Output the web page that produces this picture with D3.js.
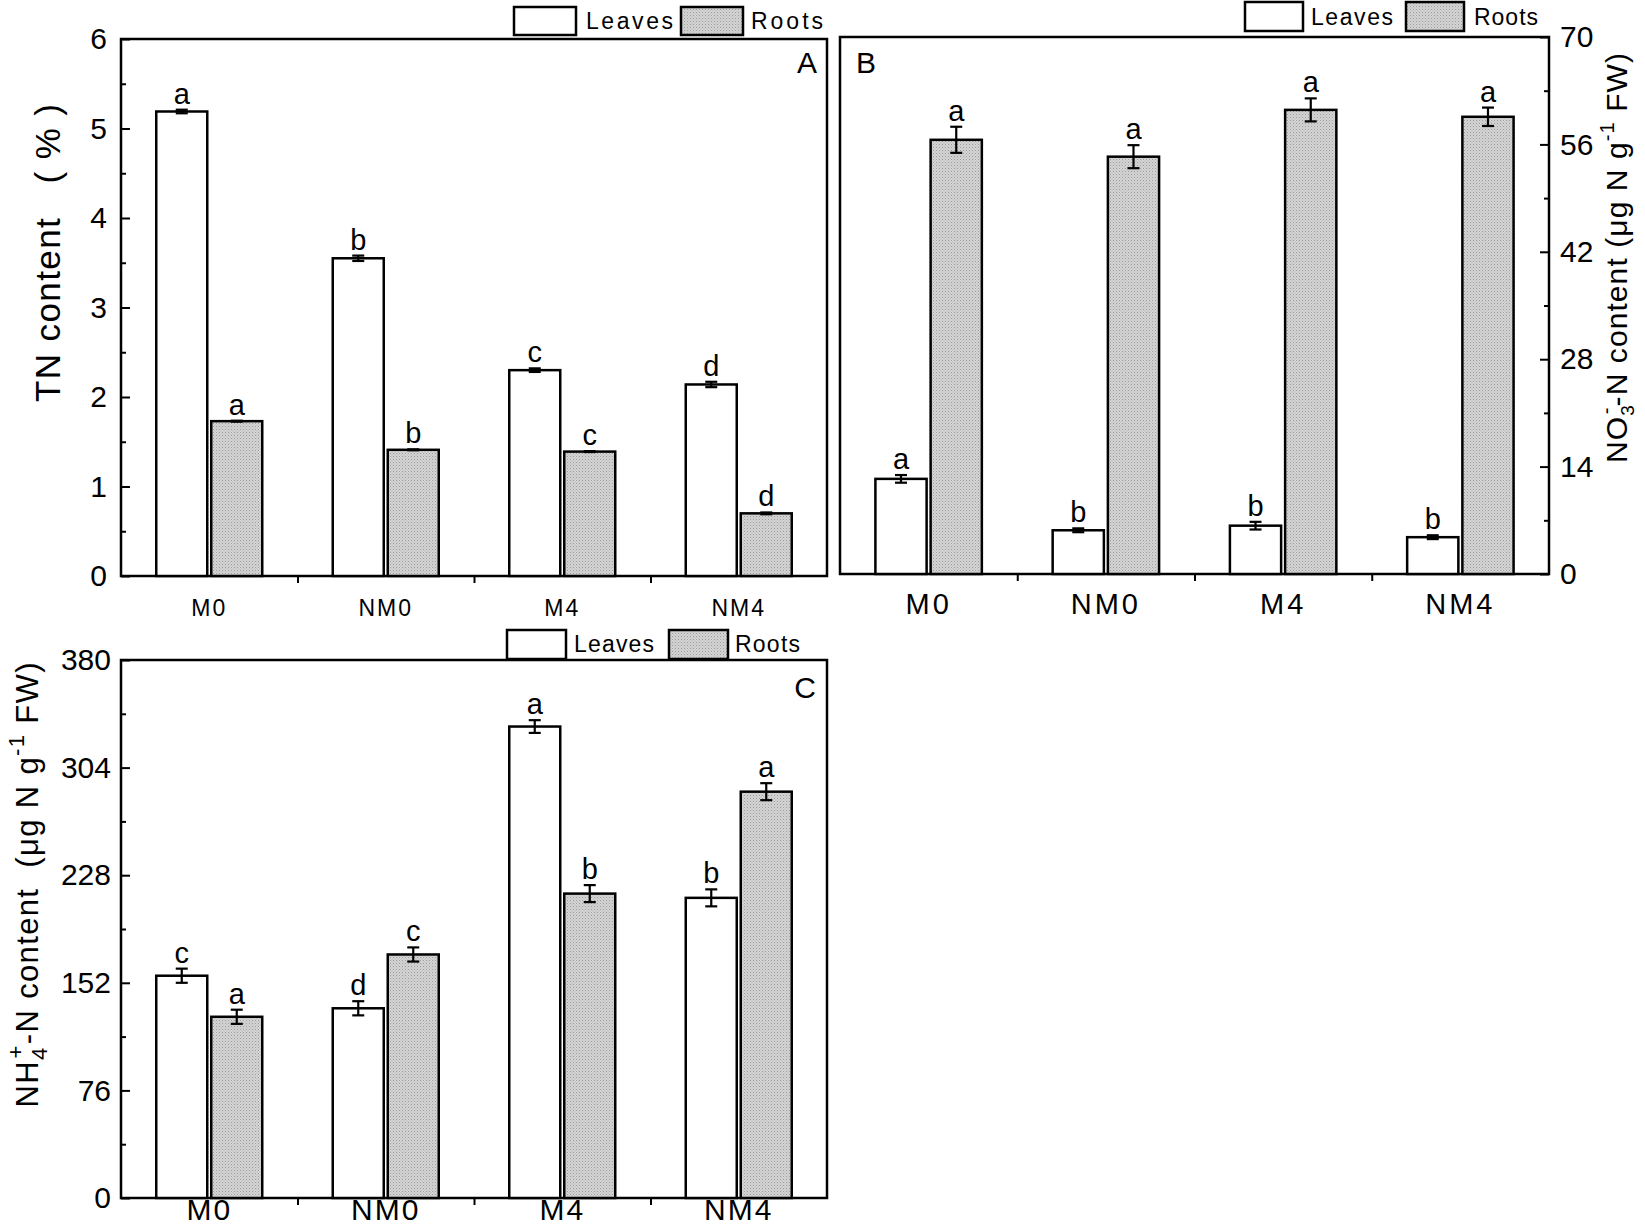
<!DOCTYPE html>
<html lang="en">
<head>
<meta charset="UTF-8">
<title>N content of leaves and roots</title>
<style>
  body { margin: 0; background: #fff; }
  svg { display: block; font-family: "Liberation Sans", Arial, sans-serif; }
  .tick line { stroke: #000; stroke-width: 2px; }
  .tick text { fill: #000; }
  .frame { fill: none; stroke: #000; stroke-width: 2.5px; }
  .bar { stroke: #000; stroke-width: 2.5px; }
  .err { stroke: #000; stroke-width: 2.2px; }
</style>
<script src="https://d3js.org/d3.v7.min.js"></script>
</head>
<body>
<svg id="chart" width="1645" height="1226"></svg>
<script>
const treatments = ["M0", "NM0", "M4", "NM4"];
const series = ["Leaves", "Roots"];

// A: total N (%)
const tnLeaves = [5.19, 3.55, 2.30, 2.14];
const tnLeavesErr = [0.02, 0.03, 0.02, 0.03];
const tnRoots = [1.73, 1.41, 1.39, 0.70];
const tnRootsErr = [0.005, 0.005, 0.005, 0.01];
const tnLeavesLetters = ["a", "b", "c", "d"];
const tnRootsLetters = ["a", "b", "c", "d"];

// B: NO3- -N (ug N / g FW)
const no3Leaves = [12.4, 5.7, 6.3, 4.8];
const no3LeavesErr = [0.5, 0.25, 0.5, 0.25];
const no3Roots = [56.6, 54.4, 60.5, 59.6];
const no3RootsErr = [1.7, 1.5, 1.5, 1.2];
const no3LeavesLetters = ["a", "b", "b", "b"];
const no3RootsLetters = ["a", "a", "a", "a"];

// C: NH4+ -N (ug N / g FW)
const nh4Leaves = [157, 134, 333, 212];
const nh4LeavesErr = [5, 5, 4.5, 6];
const nh4Roots = [128, 172, 215, 287];
const nh4RootsErr = [5, 5, 6, 6];
const nh4LeavesLetters = ["c", "d", "a", "b"];
const nh4RootsLetters = ["a", "c", "b", "a"];

const tnTicks = [0, 1, 2, 3, 4, 5, 6];
const tnMinor = [0.5, 1.5, 2.5, 3.5, 4.5, 5.5];
const no3Ticks = [0, 14, 28, 42, 56, 70];
const no3Minor = [7, 21, 35, 49, 63];
const nh4Ticks = [0, 76, 152, 228, 304, 380];
const nh4Minor = [38, 114, 190, 266, 342];

const svg = d3.select("#chart");

const defs = svg.append("defs");
const pat = defs.append("pattern")
    .attr("id", "stipple")
    .attr("width", 3).attr("height", 3)
    .attr("patternUnits", "userSpaceOnUse");
pat.append("rect").attr("width", 3).attr("height", 3).attr("fill", "#d4d4d4");
pat.append("rect").attr("x", 0).attr("y", 0).attr("width", 1).attr("height", 1).attr("fill", "#9c9c9c");
pat.append("rect").attr("x", 1.5).attr("y", 1.5).attr("width", 1).attr("height", 1).attr("fill", "#b0b0b0");

function drawPanel(p) {
    const g = svg.append("g");

    const x0 = d3.scaleBand().domain(treatments).range([p.left, p.right]);
    const x1 = d3.scaleBand().domain(series).range([0, x0.bandwidth()])
        .paddingInner(0.0727).paddingOuter(0.641);
    const y = d3.scaleLinear().domain([0, p.yMax]).range([p.bottom, p.top]);
    const xb = d3.scaleLinear().domain([0, treatments.length]).range([p.left, p.right]);

    // frame
    g.append("rect").attr("class", "frame")
        .attr("x", p.left).attr("y", p.top)
        .attr("width", p.right - p.left).attr("height", p.bottom - p.top);

    // y axis, ticks pointing inward
    const axisX = p.side === "left" ? p.left : p.right;
    const mk = p.side === "left" ? d3.axisLeft : d3.axisRight;
    const yAxis = g.append("g").attr("transform", `translate(${axisX},0)`)
        .call(mk(y).tickValues(p.ticks).tickSize(-9).tickPadding(p.tickPad).tickFormat(d3.format("d")));
    yAxis.select(".domain").remove();
    yAxis.selectAll("text").style("font-size", p.tickFont + "px");
    const yMinor = g.append("g").attr("transform", `translate(${axisX},0)`)
        .call(mk(y).tickValues(p.minor).tickSize(-5).tickFormat(""));
    yMinor.select(".domain").remove();

    // x axis: ticks at group boundaries, outward
    const xAxis = g.append("g").attr("transform", `translate(0,${p.bottom})`)
        .call(d3.axisBottom(xb).tickValues([1, 2, 3]).tickSize(7).tickFormat(""));
    xAxis.select(".domain").remove();

    g.selectAll(".xlab").data(treatments).enter().append("text")
        .attr("x", d => x0(d) + x0.bandwidth() / 2)
        .attr("y", p.xLabY)
        .attr("text-anchor", "middle")
        .style("font-size", p.xLabFont + "px")
        .style("letter-spacing", p.xLabSpacing + "px")
        .text(d => d);

    // bars
    const rows = [];
    treatments.forEach((t, i) => {
        rows.push({ t, s: "Leaves", v: p.leaves[i], e: p.leavesErr[i], l: p.leavesLetters[i] });
        rows.push({ t, s: "Roots", v: p.roots[i], e: p.rootsErr[i], l: p.rootsLetters[i] });
    });
    const cx = d => x0(d.t) + x1(d.s) + x1.bandwidth() / 2;

    g.selectAll(".bar").data(rows).enter().append("rect")
        .attr("class", "bar")
        .attr("x", d => x0(d.t) + x1(d.s))
        .attr("y", d => y(d.v))
        .attr("width", x1.bandwidth())
        .attr("height", d => y(0) - y(d.v))
        .attr("fill", d => d.s === "Leaves" ? "#fff" : "url(#stipple)");

    const eg = g.selectAll(".errg").data(rows).enter().append("g");
    eg.append("line").attr("class", "err")
        .attr("x1", cx).attr("x2", cx)
        .attr("y1", d => y(d.v - d.e)).attr("y2", d => y(d.v + d.e));
    eg.append("line").attr("class", "err")
        .attr("x1", d => cx(d) - 6).attr("x2", d => cx(d) + 6)
        .attr("y1", d => y(d.v + d.e)).attr("y2", d => y(d.v + d.e));
    eg.append("line").attr("class", "err")
        .attr("x1", d => cx(d) - 6).attr("x2", d => cx(d) + 6)
        .attr("y1", d => y(d.v - d.e)).attr("y2", d => y(d.v - d.e));

    g.selectAll(".sig").data(rows).enter().append("text")
        .attr("x", cx)
        .attr("y", d => y(d.v + d.e) - 6)
        .attr("text-anchor", "middle")
        .style("font-size", "29px")
        .text(d => d.l);

    // panel letter
    g.append("text")
        .attr("x", p.tag.x).attr("y", p.tag.y)
        .attr("text-anchor", p.tag.anchor)
        .style("font-size", "30px")
        .text(p.tag.text);

    // legend
    const lg = p.legend;
    [["Leaves", "#fff", lg.lx, lg.lt, lg.lw], ["Roots", "url(#stipple)", lg.rx, lg.rt, lg.rw]].forEach(([name, fill, bx, tx, tw]) => {
        g.append("rect").attr("class", "bar")
            .attr("x", bx).attr("y", lg.y).attr("width", lg.bw).attr("height", lg.bh)
            .attr("fill", fill);
        g.append("text")
            .attr("x", tx).attr("y", lg.ty)
            .attr("textLength", tw).attr("lengthAdjust", "spacing")
            .style("font-size", "23px")
            .text(name);
    });

    // y axis title
    const yt = g.append("text")
        .attr("transform", `translate(${p.title.x},${p.title.y}) rotate(-90)`)
        .attr("text-anchor", "middle")
        .attr("textLength", p.title.len).attr("lengthAdjust", "spacing")
        .style("font-size", p.title.font + "px")
        .style("white-space", "pre");
    p.title.parts.forEach(part => {
        const ts = yt.append("tspan").text(part.t);
        if (part.dy) ts.attr("dy", part.dy);
        if (part.dx) ts.attr("dx", part.dx);
        if (part.size) ts.style("font-size", part.size + "px");
    });
}

drawPanel({
    left: 121, right: 827, top: 39, bottom: 576,
    yMax: 6, ticks: tnTicks, minor: tnMinor, side: "left", tickPad: 14, tickFont: 30,
    leaves: tnLeaves, leavesErr: tnLeavesErr, roots: tnRoots, rootsErr: tnRootsErr,
    leavesLetters: tnLeavesLetters, rootsLetters: tnRootsLetters,
    xLabY: 616, xLabFont: 23, xLabSpacing: 2,
    tag: { text: "A", x: 817, y: 73, anchor: "end" },
    legend: { y: 7, bw: 62, bh: 28, ty: 29, lx: 514, lt: 586, lw: 87, rx: 681, rt: 751, rw: 72 },
    title: { x: 60, y: 253, len: 298, font: 35,
        parts: [{ t: "TN content   ( % )" }] }
});

drawPanel({
    left: 840, right: 1549, top: 37, bottom: 574,
    yMax: 70, ticks: no3Ticks, minor: no3Minor, side: "right", tickPad: 11, tickFont: 30,
    leaves: no3Leaves, leavesErr: no3LeavesErr, roots: no3Roots, rootsErr: no3RootsErr,
    leavesLetters: no3LeavesLetters, rootsLetters: no3RootsLetters,
    xLabY: 614, xLabFont: 29, xLabSpacing: 3,
    tag: { text: "B", x: 856, y: 73, anchor: "start" },
    legend: { y: 2, bw: 58, bh: 29, ty: 25, lx: 1245, lt: 1311, lw: 82, rx: 1406, rt: 1474, rw: 64 },
    title: { x: 1627, y: 258, len: 410, font: 30,
        parts: [
            { t: "NO" },
            { t: "3", dy: 7, size: 19 },
            { t: "-", dx: -10, dy: -21, size: 20 },
            { t: "-N content (\u03bcg N g", dy: 14 },
            { t: "-1", dy: -13, size: 20 },
            { t: " FW)", dy: 13 }
        ] }
});

drawPanel({
    left: 121, right: 827, top: 660, bottom: 1198,
    yMax: 380, ticks: nh4Ticks, minor: nh4Minor, side: "left", tickPad: 10, tickFont: 30,
    leaves: nh4Leaves, leavesErr: nh4LeavesErr, roots: nh4Roots, rootsErr: nh4RootsErr,
    leavesLetters: nh4LeavesLetters, rootsLetters: nh4RootsLetters,
    xLabY: 1220, xLabFont: 30, xLabSpacing: 2,
    tag: { text: "C", x: 816, y: 698, anchor: "end" },
    legend: { y: 630, bw: 59, bh: 29, ty: 652, lx: 507, lt: 574, lw: 80, rx: 669, rt: 735, rw: 65 },
    title: { x: 38, y: 885, len: 445, font: 31,
        parts: [
            { t: "NH" },
            { t: "4", dy: 9, size: 22 },
            { t: "+", dx: -12, dy: -24, size: 22 },
            { t: "-N content  (\u03bcg N g", dy: 15 },
            { t: "-1", dy: -14, size: 22 },
            { t: " FW)", dy: 14 }
        ] }
});
</script>
</body>
</html>
